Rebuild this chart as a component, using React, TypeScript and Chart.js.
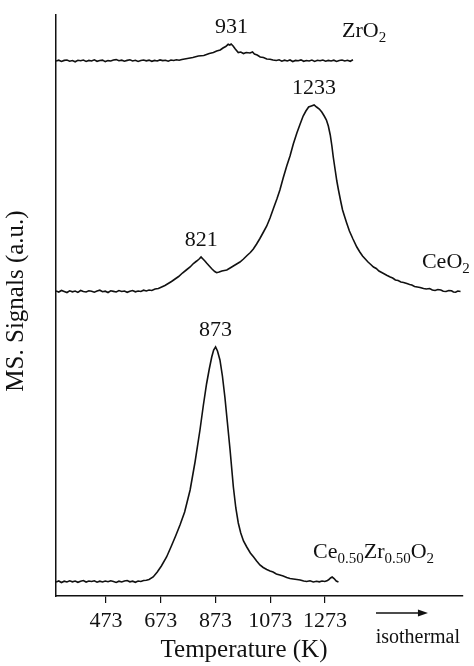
import React, { useEffect, useRef } from "react";
import { Chart, registerables } from "chart.js";
Chart.register(...registerables);

// Temperature ticks (K)
const xTicks = [473, 673, 873, 1073, 1273];

// ZrO2 trace (temperature K, signal above its baseline, a.u.)
const tZr = [
  290, 300, 310, 320, 330, 340, 350, 360, 370, 380, 390, 400, 410, 420, 430, 440, 450, 460, 470, 480,
  490, 500, 510, 520, 530, 540, 550, 560, 570, 580, 590, 600, 610, 620, 630, 640, 650, 660, 670, 680,
  690, 700, 710, 720, 730, 740, 750,
  770, 790, 810, 830, 850, 865, 877, 890, 900, 910, 919, 925, 930, 937, 945, 956, 965, 975, 985, 999,
  1008, 1015, 1025, 1036, 1048, 1060, 1072, 1083,
  1095, 1105, 1115, 1125, 1135, 1145, 1155, 1165, 1175, 1185, 1195, 1205, 1215, 1225, 1235, 1245, 1255,
  1265, 1275, 1285, 1295, 1305, 1315, 1325, 1335, 1345, 1355, 1365, 1375,
];
const sZr = [
  0.0, 0.08, -0.05, 0.06, 0.1, -0.02, 0.05, -0.08, 0.07, 0.02, 0.1, -0.04, 0.06, 0.0, 0.12, -0.03, 0.05, 0.09, -0.06, 0.04,
  0.0, 0.1, 0.14, 0.03, 0.08, -0.02, 0.06, 0.12, 0.0, 0.07, -0.05, 0.05, 0.1, 0.02, 0.09, -0.03, 0.06, 0.0, 0.11, 0.04,
  0.08, -0.02, 0.1, 0.05, 0.12, 0.08, 0.15,
  0.25, 0.35, 0.5, 0.55, 0.75, 0.85, 1.0, 1.1, 1.3, 1.45, 1.67, 1.6, 1.7, 1.5, 1.2, 0.85, 0.9, 0.75, 0.85, 0.8,
  0.9, 0.7, 0.6, 0.4, 0.35, 0.2, 0.18, 0.1,
  0.05, 0.12, -0.02, 0.08, 0.0, 0.1, -0.05, 0.06, 0.03, 0.11, -0.03, 0.05, 0.0, 0.09, -0.04, 0.07, 0.02,
  0.1, -0.02, 0.06, 0.0, 0.08, -0.05, 0.05, 0.1, 0.0, 0.07, -0.03, 0.12,
];

// CeO2 trace
const tCe = [
  290, 300, 310, 320, 330, 340, 350, 360, 370, 380, 390, 400, 410, 420, 430, 440, 450, 460, 470, 480,
  490, 500, 510, 520, 530, 540, 550, 560, 570, 580, 590, 600, 610, 620, 630, 640,
  652, 664, 676, 688, 700, 712, 725, 738, 752, 766,
  780, 792, 804, 813, 820, 827, 834, 841, 850, 860,
  870, 877, 886, 896, 905, 914, 926, 938, 950, 962,
  975, 988, 1000, 1011, 1023, 1035, 1048, 1060, 1072, 1085,
  1097, 1108, 1120, 1133, 1145, 1157, 1170, 1182, 1193, 1203,
  1213, 1223, 1233, 1242, 1252, 1261, 1270, 1278, 1285, 1292,
  1298, 1303, 1310, 1316, 1322, 1330, 1337, 1345, 1352, 1362,
  1375, 1389, 1400, 1410, 1420, 1430, 1440, 1450, 1460, 1470,
  1480, 1490, 1500, 1511, 1520, 1530, 1540, 1550, 1560, 1572,
  1582, 1590, 1600, 1610, 1620, 1633, 1643, 1655, 1665, 1675,
  1685, 1696, 1705, 1715, 1725, 1735, 1742, 1750, 1758, 1768,
];
const sCe = [
  0.1, 0.0, 0.15, 0.05, -0.05, 0.12, 0.02, 0.1, -0.04, 0.15, 0.05, 0.0, 0.12, 0.08, -0.02, 0.1, 0.18, 0.03, 0.08, -0.05,
  0.12, 0.06, 0.0, 0.14, 0.05, 0.1, -0.03, 0.08, 0.15, 0.02, 0.1, 0.05, 0.18, 0.1, 0.2, 0.15,
  0.3, 0.35, 0.5, 0.65, 0.85, 1.05, 1.3, 1.55, 1.9, 2.2,
  2.5, 2.85, 3.1, 3.3, 3.5, 3.3, 3.1, 2.87, 2.6, 2.3,
  2.05, 1.93, 2.0, 2.1, 2.15, 2.2, 2.4, 2.6, 2.8, 3.0,
  3.3, 3.65, 3.95, 4.3, 4.8, 5.35, 6.0, 6.6, 7.4, 8.4,
  9.3, 10.2, 11.4, 12.6, 13.6, 14.8, 15.9, 16.8, 17.6, 18.1,
  18.5, 18.6, 18.7, 18.5, 18.3, 18.0, 17.6, 17.2, 16.6, 15.7,
  14.6, 13.5, 12.2, 11.1, 10.2, 9.1, 8.2, 7.5, 6.9, 6.1,
  5.3, 4.5, 4.0, 3.6, 3.3, 3.0, 2.75, 2.5, 2.35, 2.1,
  1.95, 1.8, 1.65, 1.5, 1.4, 1.2, 1.15, 1.0, 0.95, 0.84,
  0.75, 0.7, 0.55, 0.5, 0.45, 0.35, 0.3, 0.35, 0.2, 0.15,
  0.25, 0.2, 0.08, 0.05, 0.15, 0.12, 0.0, -0.02, 0.1, 0.05,
];

// Ce0.50Zr0.50O2 trace
const tCz = [
  290, 300, 310, 320, 330, 340, 350, 360, 370, 380, 390, 400, 410, 420, 430, 440, 450, 460, 470, 480,
  490, 500, 510, 520, 530, 540, 550, 560, 570, 580, 590, 600, 610, 620, 630,
  645, 660, 675, 694, 710, 727, 743, 760, 780, 798,
  816, 828, 840, 850, 859, 866, 873, 880, 889, 898,
  907, 916, 926, 938, 947, 956, 965, 975, 987, 1000,
  1012, 1023, 1035, 1047, 1060, 1072, 1083, 1095, 1108, 1120,
  1133, 1145, 1157, 1170, 1182, 1195, 1206, 1218, 1230, 1242,
  1252, 1262, 1272, 1280, 1287, 1293, 1299, 1306, 1314, 1322,
];
const sCz = [
  0.0, 0.1, -0.05, 0.08, 0.0, 0.12, 0.02, 0.1, -0.03, 0.08, 0.15, 0.0, 0.1, 0.05, 0.12, -0.02, 0.08, 0.0, 0.1, 0.03,
  0.12, 0.05, -0.04, 0.08, 0.0, 0.1, 0.15, 0.02, 0.08, -0.03, 0.1, 0.05, 0.15, 0.18, 0.25,
  0.5, 1.0, 1.6, 2.5, 3.5, 4.6, 5.7, 7.0, 9.2, 12.0,
  15.2, 17.6, 19.8, 21.3, 22.5, 23.2, 23.5, 23.1, 22.2, 20.6,
  18.5, 16.0, 13.2, 9.5, 7.4, 5.9, 4.9, 4.1, 3.5, 2.9,
  2.5, 2.1, 1.7, 1.45, 1.25, 1.1, 1.0, 0.8, 0.7, 0.6,
  0.45, 0.35, 0.3, 0.25, 0.2, 0.1, 0.05, 0.12, 0.0, 0.08,
  0.02, 0.1, 0.05, 0.12, 0.25, 0.4, 0.5, 0.35, 0.1, 0.0,
];

// Vertical stacking baselines (a.u.): Ce0.50Zr0.50O2, CeO2, ZrO2
const baselines = [1.4, 30.4, 53.5];

// Peak labels: text, temperature, series index
const peakLabels: [string, number, number][] = [
  ["931", 931, 2],
  ["1233", 1233, 1],
  ["821", 821, 1],
  ["873", 873, 0],
];

// Series names (segments: text, subscript?) and x anchor temperature
const seriesNames: { segs: [string, boolean][]; t: number; s: number }[] = [
  { segs: [["Ce", false], ["0.50", true], ["Zr", false], ["0.50", true], ["O", false], ["2", true]], t: 1229, s: 0 },
  { segs: [["CeO", false], ["2", true]], t: 1627, s: 1 },
  { segs: [["ZrO", false], ["2", true]], t: 1335, s: 2 },
];

const FONT = '"Liberation Serif", "DejaVu Serif", serif';

export default function App() {
  const ref = useRef<HTMLCanvasElement>(null);
  useEffect(() => {
    document.body.style.margin = "0";
    const series = [
      [tCz, sCz],
      [tCe, sCe],
      [tZr, sZr],
    ];
    const datasets = series.map(([t, s], i) => ({
      data: t.map((x, j) => ({ x, y: baselines[i] + s[j] })),
      borderColor: "#111",
      borderWidth: 1.6,
      pointRadius: 0,
      tension: 0,
      fill: false,
    }));

    const textPlugin = {
      id: "texts",
      afterDraw(chart: any) {
        const ctx = chart.ctx as CanvasRenderingContext2D;
        const xs = chart.scales.x;
        const ys = chart.scales.y;
        ctx.save();
        ctx.fillStyle = "#111";
        ctx.textBaseline = "middle";
        // peak labels
        ctx.textAlign = "center";
        ctx.font = `22px ${FONT}`;
        peakLabels.forEach(([txt, t, si]) => {
          const [ts, ss] = series[si];
          let best = 0;
          ts.forEach((v, j) => {
            if (Math.abs(v - t) < Math.abs(ts[best] - t)) best = j;
          });
          const py = ys.getPixelForValue(baselines[si] + ss[best]);
          ctx.fillText(txt, xs.getPixelForValue(t), py - 17);
        });
        // series names
        ctx.textAlign = "left";
        seriesNames.forEach(({ segs, t, s }) => {
          let cx = xs.getPixelForValue(t);
          const cy = ys.getPixelForValue(baselines[s]) - 30;
          segs.forEach(([txt, sub]) => {
            ctx.font = `${sub ? 15 : 22}px ${FONT}`;
            ctx.fillText(txt, cx, sub ? cy + 7 : cy);
            cx += ctx.measureText(txt).width;
          });
        });
        // isothermal arrow
        const ax1 = xs.getPixelForValue(1459);
        const ax2 = xs.getPixelForValue(1649);
        const ay = 613;
        ctx.strokeStyle = "#111";
        ctx.lineWidth = 1.3;
        ctx.beginPath();
        ctx.moveTo(ax1, ay);
        ctx.lineTo(ax2 - 6, ay);
        ctx.stroke();
        ctx.beginPath();
        ctx.moveTo(ax2, ay);
        ctx.lineTo(ax2 - 10, ay - 3.5);
        ctx.lineTo(ax2 - 10, ay + 3.5);
        ctx.closePath();
        ctx.fill();
        ctx.textAlign = "center";
        ctx.font = `20px ${FONT}`;
        ctx.fillText("isothermal", xs.getPixelForValue(1612), 638);
        // axis titles
        ctx.font = `25px ${FONT}`;
        ctx.fillText("Temperature (K)", 244, 650);
        ctx.save();
        ctx.translate(16, 301);
        ctx.rotate(-Math.PI / 2);
        ctx.fillText("MS. Signals (a.u.)", 0, 0);
        ctx.restore();
        ctx.restore();
      },
    };

    const chart = new Chart(ref.current!, {
      type: "line",
      data: { datasets },
      options: {
        responsive: false,
        animation: false,
        layout: { padding: { top: 15, right: 11, left: 0, bottom: 0 } },
        plugins: { legend: { display: false }, tooltip: { enabled: false } },
        scales: {
          x: {
            type: "linear",
            min: 290,
            max: 1777,
            afterBuildTicks: (s: any) => {
              s.ticks = xTicks.map((v) => ({ value: v }));
            },
            afterFit: (s: any) => {
              s.height = 70;
            },
            grid: { display: true, drawOnChartArea: false, drawTicks: true, tickLength: 7, color: "#111", lineWidth: 1.2 },
            border: { display: true, color: "#111", width: 1.5 },
            ticks: {
              color: "#111",
              padding: 5,
              maxRotation: 0,
              autoSkip: false,
              font: { family: FONT, size: 22 },
              callback: (v: any) => String(v),
            },
          },
          y: {
            type: "linear",
            min: 0,
            max: 58.1,
            afterFit: (s: any) => {
              s.width = 56;
            },
            grid: { display: false },
            border: { display: true, color: "#111", width: 1.5 },
            ticks: { display: false },
          },
        },
      },
      plugins: [textPlugin],
    });
    return () => chart.destroy();
  }, []);
  return <canvas ref={ref} width={474} height={666} style={{ display: "block" }} />;
}
